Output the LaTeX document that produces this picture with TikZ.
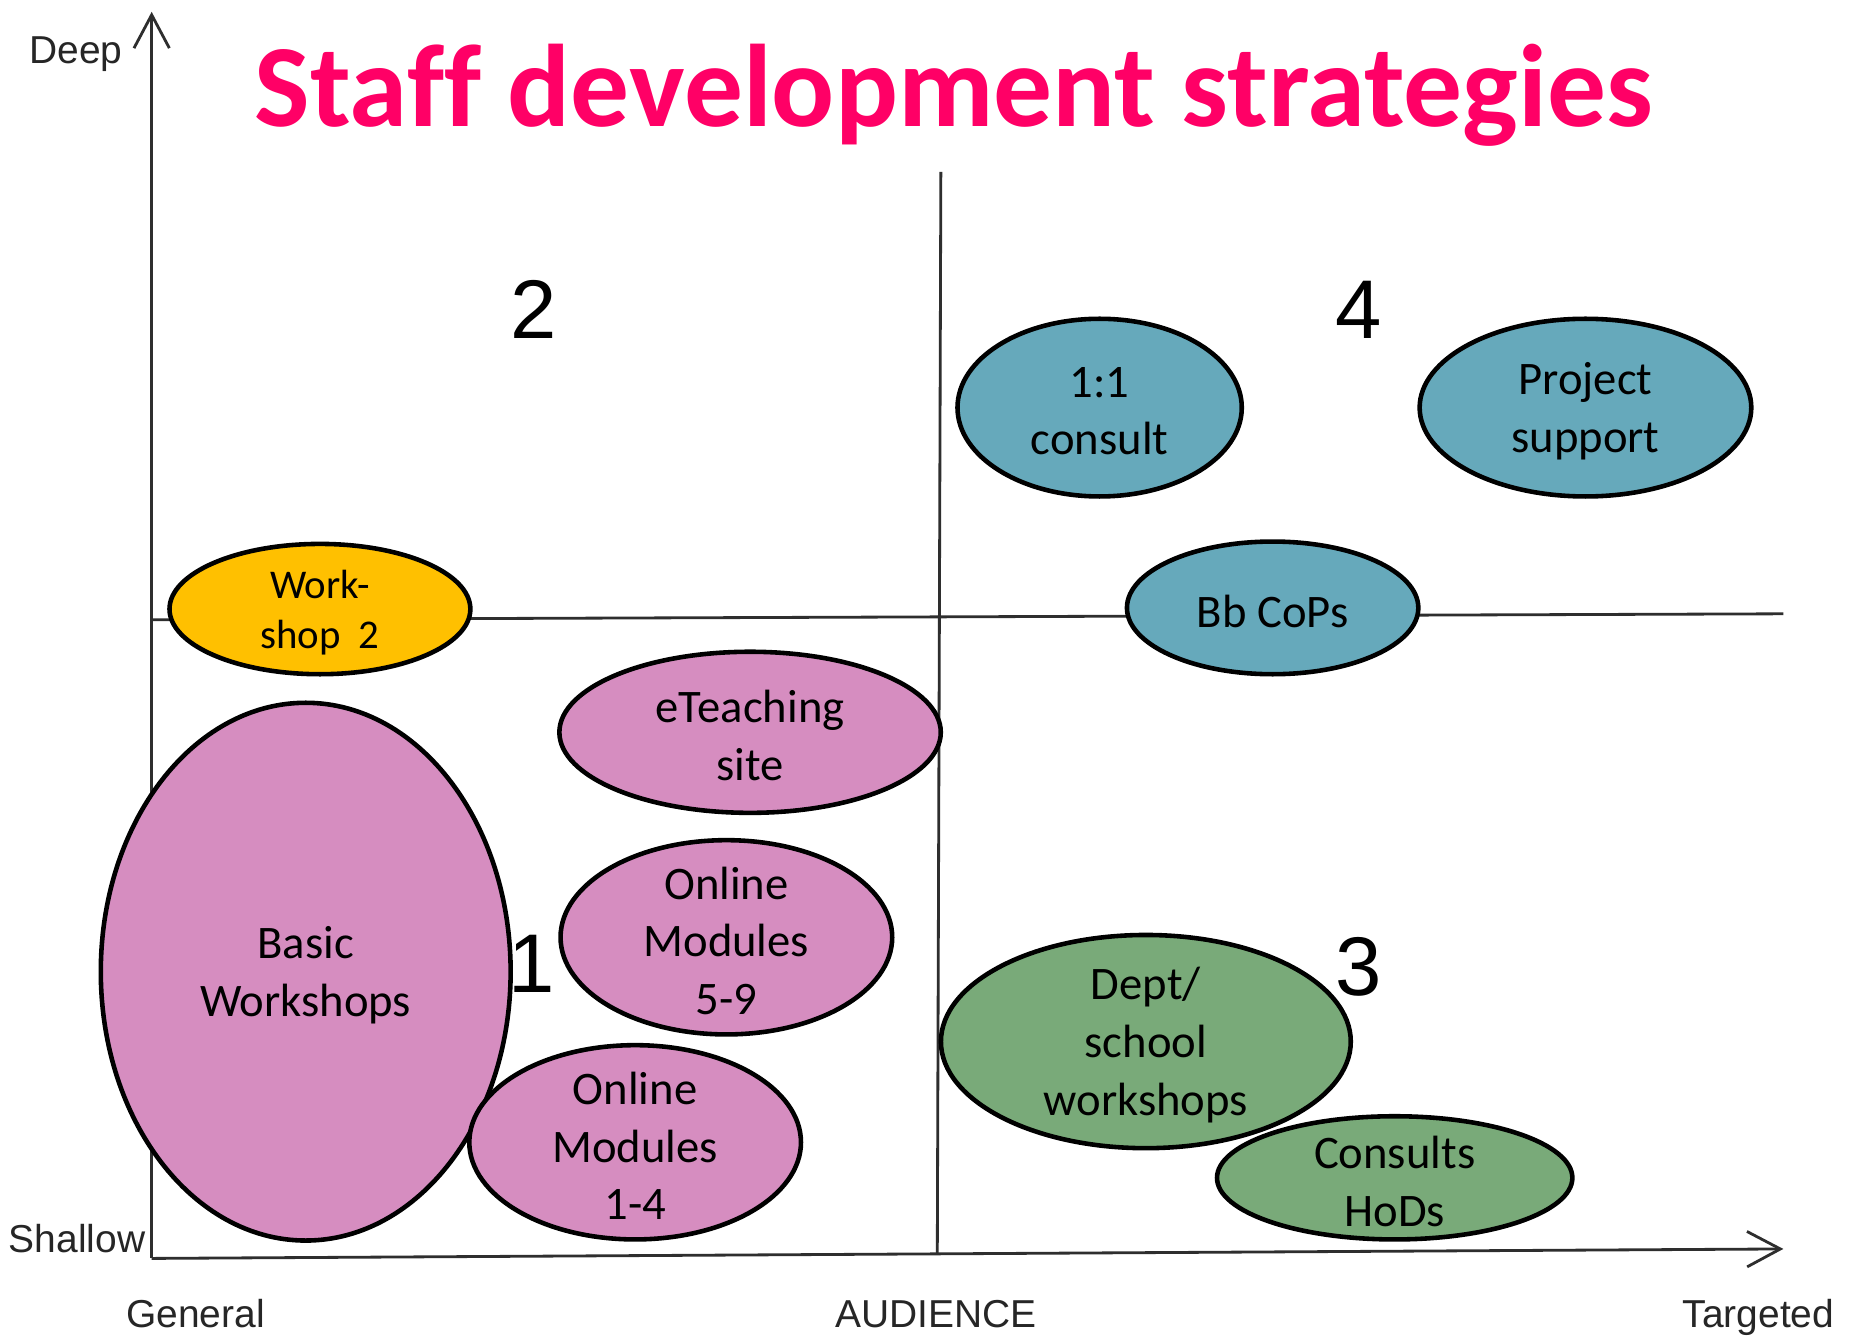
\documentclass[tikz,border=0pt]{standalone}
\usepackage{fontspec}
\setmainfont{Carlito}[Ligatures={NoCommon}]
\newfontfamily\axisfont{Liberation Sans}
\usetikzlibrary{arrows.meta,shapes.geometric}
\definecolor{titlecol}{RGB}{255,0,102}
\definecolor{pinkf}{RGB}{214,141,192}
\definecolor{tealf}{RGB}{102,169,187}
\definecolor{greenf}{RGB}{121,170,121}
\definecolor{goldf}{RGB}{255,192,0}
\begin{document}
\begin{tikzpicture}[x=0.02cm,y=-0.02cm,
  axisline/.style={draw=black!82, line width=1.35pt},
  bubble/.style={ellipse, draw=black, line width=2.2pt, inner sep=0pt},
  bub/.style 2 args={bubble, minimum width=#1*0.04cm, minimum height=#2*0.04cm},
  btext/.style={align=center, font=\fontsize{22.4pt}{27.8pt}\selectfont, inner sep=0pt, yshift=-0.06cm},
  axlabel/.style={font=\axisfont\fontsize{18.7pt}{22pt}\selectfont, anchor=base, inner sep=0pt, text=black!85},
  quadnum/.style={font=\axisfont\fontsize{40pt}{48pt}\selectfont, anchor=base, inner sep=0pt},
  barb/.style={-{Straight Barb[length=16pt,width=17pt,line width=1.35pt]}}
]
\useasboundingbox (0,0) rectangle (1568,1128);
\fill[white] (0,0) rectangle (1568,1128);

% title
\node[anchor=base, text=titlecol, inner sep=0pt, font=\bfseries\fontsize{56.4pt}{60pt}\selectfont] (title) at (805,107) {Staff development strategies};

% axes and quadrant lines
\coordinate (origin) at (128,1062);
\coordinate (ytip) at (128,10);
\coordinate (xtip) at (1505,1054);
\coordinate (hl) at (128,523);
\coordinate (hr) at (1505,518);
\coordinate (vt) at (794,145);
\coordinate (vb) at (791,1058);
\draw[axisline] (hl) -- (hr);
\draw[axisline] (vt) -- (vb);
\draw[axisline, barb] (origin) -- (ytip);
\draw[axisline, barb] (origin) -- (xtip);

% axis labels
\node[axlabel] (deep) at (64,54) {Deep};
\node[axlabel] (shallow) at (65,1057) {Shallow};
\node[axlabel] (general) at (165,1120) {General};
\node[axlabel] (audience) at (790,1120) {AUDIENCE};
\node[axlabel] (targeted) at (1484,1120) {Targeted};

% quadrant numbers
\node[quadnum] (q2) at (450,286) {2};
\node[quadnum] (q4) at (1147,286) {4};
\node[quadnum] (q1) at (449,838) {1};
\node[quadnum] (q3) at (1147,840) {3};

% bubbles
\node[bub={127}{55}, fill=goldf] (ws2) at (270,514) {};
\node[align=center, inner sep=0pt, yshift=-0.06cm, font=\fontsize{19.6pt}{24.4pt}\selectfont] (ws2t) at (ws2) {Work-\\shop\ \ 2};

\node[bub={173}{227}, fill=pinkf] (basic) at (258,820) {};
\node[btext] (basict) at (basic) {Basic\\Workshops};

\node[bub={161}{68}, fill=pinkf] (eteach) at (633,618) {};
\node[btext] (eteacht) at (eteach) {eTeaching\\site};

\node[bub={140}{82}, fill=pinkf] (om59) at (613,791) {};
\node[btext] (om59t) at (om59) {Online\\Modules\\5-9};

\node[bub={140}{82}, fill=pinkf] (om14) at (536,964) {};
\node[btext] (om14t) at (om14) {Online\\Modules\\1-4};

\node[bub={120}{75}, fill=tealf] (consult) at (928,344) {};
\node[btext] (consultt) at (consult) {1:1\\consult};

\node[bub={140}{75}, fill=tealf] (project) at (1338,344) {};
\node[btext] (projectt) at (project) {Project\\support};

\node[bub={123}{56}, fill=tealf] (bbcops) at (1074,513) {};
\node[btext] (bbcopst) at (bbcops) {Bb CoPs};

\node[bub={173}{90}, fill=greenf] (dept) at (967,879) {};
\node[btext] (deptt) at (dept) {Dept/\\school\\workshops};

\node[bub={150}{52}, fill=greenf] (hods) at (1177,994) {};
\node[btext] (hodst) at (hods) {Consults\\HoDs};
\end{tikzpicture}
\end{document}
